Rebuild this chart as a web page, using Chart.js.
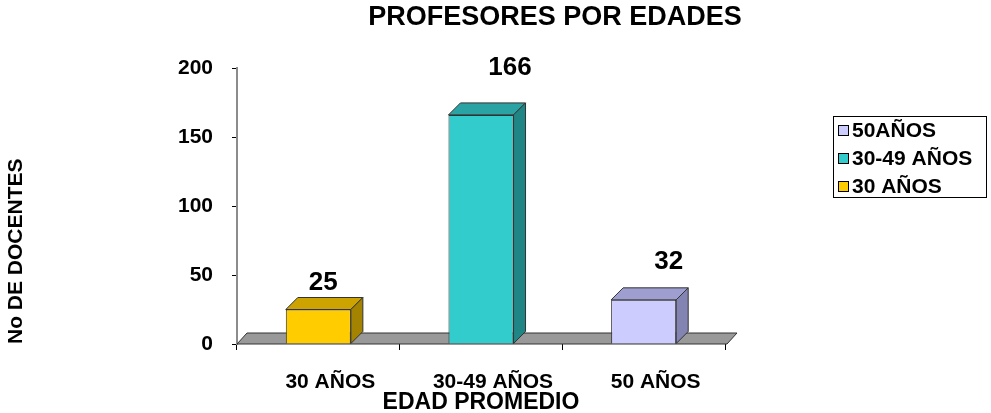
<!DOCTYPE html>
<html>
<head>
<meta charset="utf-8">
<script src="https://cdn.jsdelivr.net/npm/chart.js@4.4.1/dist/chart.umd.min.js"></script>
<style>
  html, body { margin: 0; padding: 0; background: #fff; }
</style>
</head>
<body>
<canvas id="edades" width="991" height="413"></canvas>
<script>
// datos
var categorias = ['30 AÑOS', '30-49 AÑOS', '50 AÑOS'];
var docentes = [25, 166, 32];
var leyenda = ['30 AÑOS', '30-49 AÑOS', '50AÑOS'];
var yTicks = [0, 50, 100, 150, 200];

var FONT = "'Liberation Sans', Arial, sans-serif";
var frente = ['#FFCC00', '#33CCCC', '#CCCCFF'];
var arriba = ['#CCA300', '#29A3A3', '#9E9ED1'];
var lado = ['#A38300', '#1F8585', '#8484B3'];
var PROF = 12; // profundidad 3d

// piso gris
var piso = {
  id: 'piso',
  beforeDatasetsDraw(chart) {
    var a = chart.chartArea, c = chart.ctx;
    c.save();
    c.beginPath();
    c.moveTo(a.left, a.bottom);
    c.lineTo(a.left + 10, a.bottom - 11);
    c.lineTo(a.right + 12, a.bottom - 11);
    c.lineTo(a.right + 2, a.bottom);
    c.closePath();
    c.fillStyle = '#999999';
    c.fill();
    c.strokeStyle = '#333';
    c.lineWidth = 1;
    c.stroke();
    c.restore();
  }
};

// caras superior y lateral de cada barra
var cubos = {
  id: 'cubos',
  afterDatasetsDraw(chart) {
    var c = chart.ctx;
    chart.getDatasetMeta(0).data.forEach(function (bar, i) {
      var p = bar.getProps(['x', 'y', 'base', 'width'], true);
      var l = p.x - p.width / 2, r = p.x + p.width / 2;
      c.save();
      c.strokeStyle = '#333';
      c.lineWidth = 1;
      c.beginPath();
      c.moveTo(l, p.y);
      c.lineTo(l + PROF, p.y - PROF);
      c.lineTo(r + PROF, p.y - PROF);
      c.lineTo(r, p.y);
      c.closePath();
      c.fillStyle = arriba[i];
      c.fill();
      c.stroke();
      c.beginPath();
      c.moveTo(r, p.y);
      c.lineTo(r + PROF, p.y - PROF);
      c.lineTo(r + PROF, p.base - PROF);
      c.lineTo(r, p.base);
      c.closePath();
      c.fillStyle = lado[i];
      c.fill();
      c.stroke();
      c.restore();
    });
  }
};

// etiquetas de valor
var etiquetas = {
  id: 'etiquetas',
  afterDatasetsDraw(chart, args, opts) {
    var c = chart.ctx;
    c.save();
    c.font = 'bold 26px ' + FONT;
    c.fillStyle = '#000';
    c.textAlign = 'center';
    c.textBaseline = 'middle';
    chart.getDatasetMeta(0).data.forEach(function (bar, i) {
      var s = opts.shift[i];
      c.fillText(String(docentes[i]), bar.x + PROF / 2 + s[0], bar.y - PROF - s[1]);
    });
    c.restore();
  }
};

// titulo y leyenda con recuadro
var extras = {
  id: 'extras',
  afterDraw(chart) {
    var c = chart.ctx;
    c.save();
    c.fillStyle = '#000';
    c.textAlign = 'center';
    c.textBaseline = 'middle';
    c.font = 'bold 27px ' + FONT;
    c.fillText('PROFESORES POR EDADES', 555, 18);

    c.strokeStyle = '#000';
    c.lineWidth = 1;
    c.strokeRect(833.5, 116.5, 153, 81);
    c.font = 'bold 21px ' + FONT;
    c.textAlign = 'left';
    for (var k = 0; k < leyenda.length; k++) {
      var idx = leyenda.length - 1 - k;
      var y = 131 + k * 28;
      c.fillStyle = frente[idx];
      c.fillRect(838.5, y - 5.5, 10, 10);
      c.strokeRect(838.5, y - 5.5, 10, 10);
      c.fillStyle = '#000';
      c.fillText(leyenda[idx], 852, y);
    }
    c.restore();
  }
};

var ctx = document.getElementById('edades').getContext('2d');
var grafico = new Chart(ctx, {
  type: 'bar',
  data: {
    labels: categorias,
    datasets: [{
      data: docentes,
      backgroundColor: frente,
      borderColor: '#333',
      borderWidth: 1,
      barPercentage: 0.5,
      categoryPercentage: 0.8
    }]
  },
  options: {
    responsive: false,
    animation: false,
    devicePixelRatio: 1,
    layout: { padding: { top: 68, right: 266, left: 0, bottom: 0 } },
    scales: {
      x: {
        afterFit: function (s) { s.height = 69; },
        grid: { drawOnChartArea: false, tickLength: 6, tickColor: '#000', offset: true },
        border: { display: false },
        ticks: { color: '#000', padding: 20, labelOffset: 12, font: { family: FONT, size: 21, weight: 'bold' } },
        title: {
          display: true,
          text: 'EDAD PROMEDIO',
          color: '#000',
          padding: { top: 0, bottom: -3 },
          font: { family: FONT, size: 23, weight: 'bold' }
        }
      },
      y: {
        min: 0,
        max: 200,
        afterFit: function (s) { s.width = 237; },
        afterBuildTicks: function (s) { s.ticks = yTicks.map(function (v) { return { value: v }; }); },
        grid: { drawOnChartArea: false, tickLength: 5, tickColor: '#000' },
        border: { color: '#8c8c8c', width: 2 },
        ticks: { color: '#000', padding: 19, font: { family: FONT, size: 21, weight: 'bold' } },
        title: {
          display: true,
          text: 'No DE DOCENTES',
          align: 'start',
          color: '#000',
          font: { family: FONT, size: 21, weight: 'bold' }
        }
      }
    },
    plugins: {
      legend: { display: false },
      tooltip: { enabled: false },
      etiquetas: { shift: [[-1, 15], [23, 35], [19, 26]] }
    }
  },
  plugins: [piso, cubos, etiquetas, extras]
});
</script>
</body>
</html>
